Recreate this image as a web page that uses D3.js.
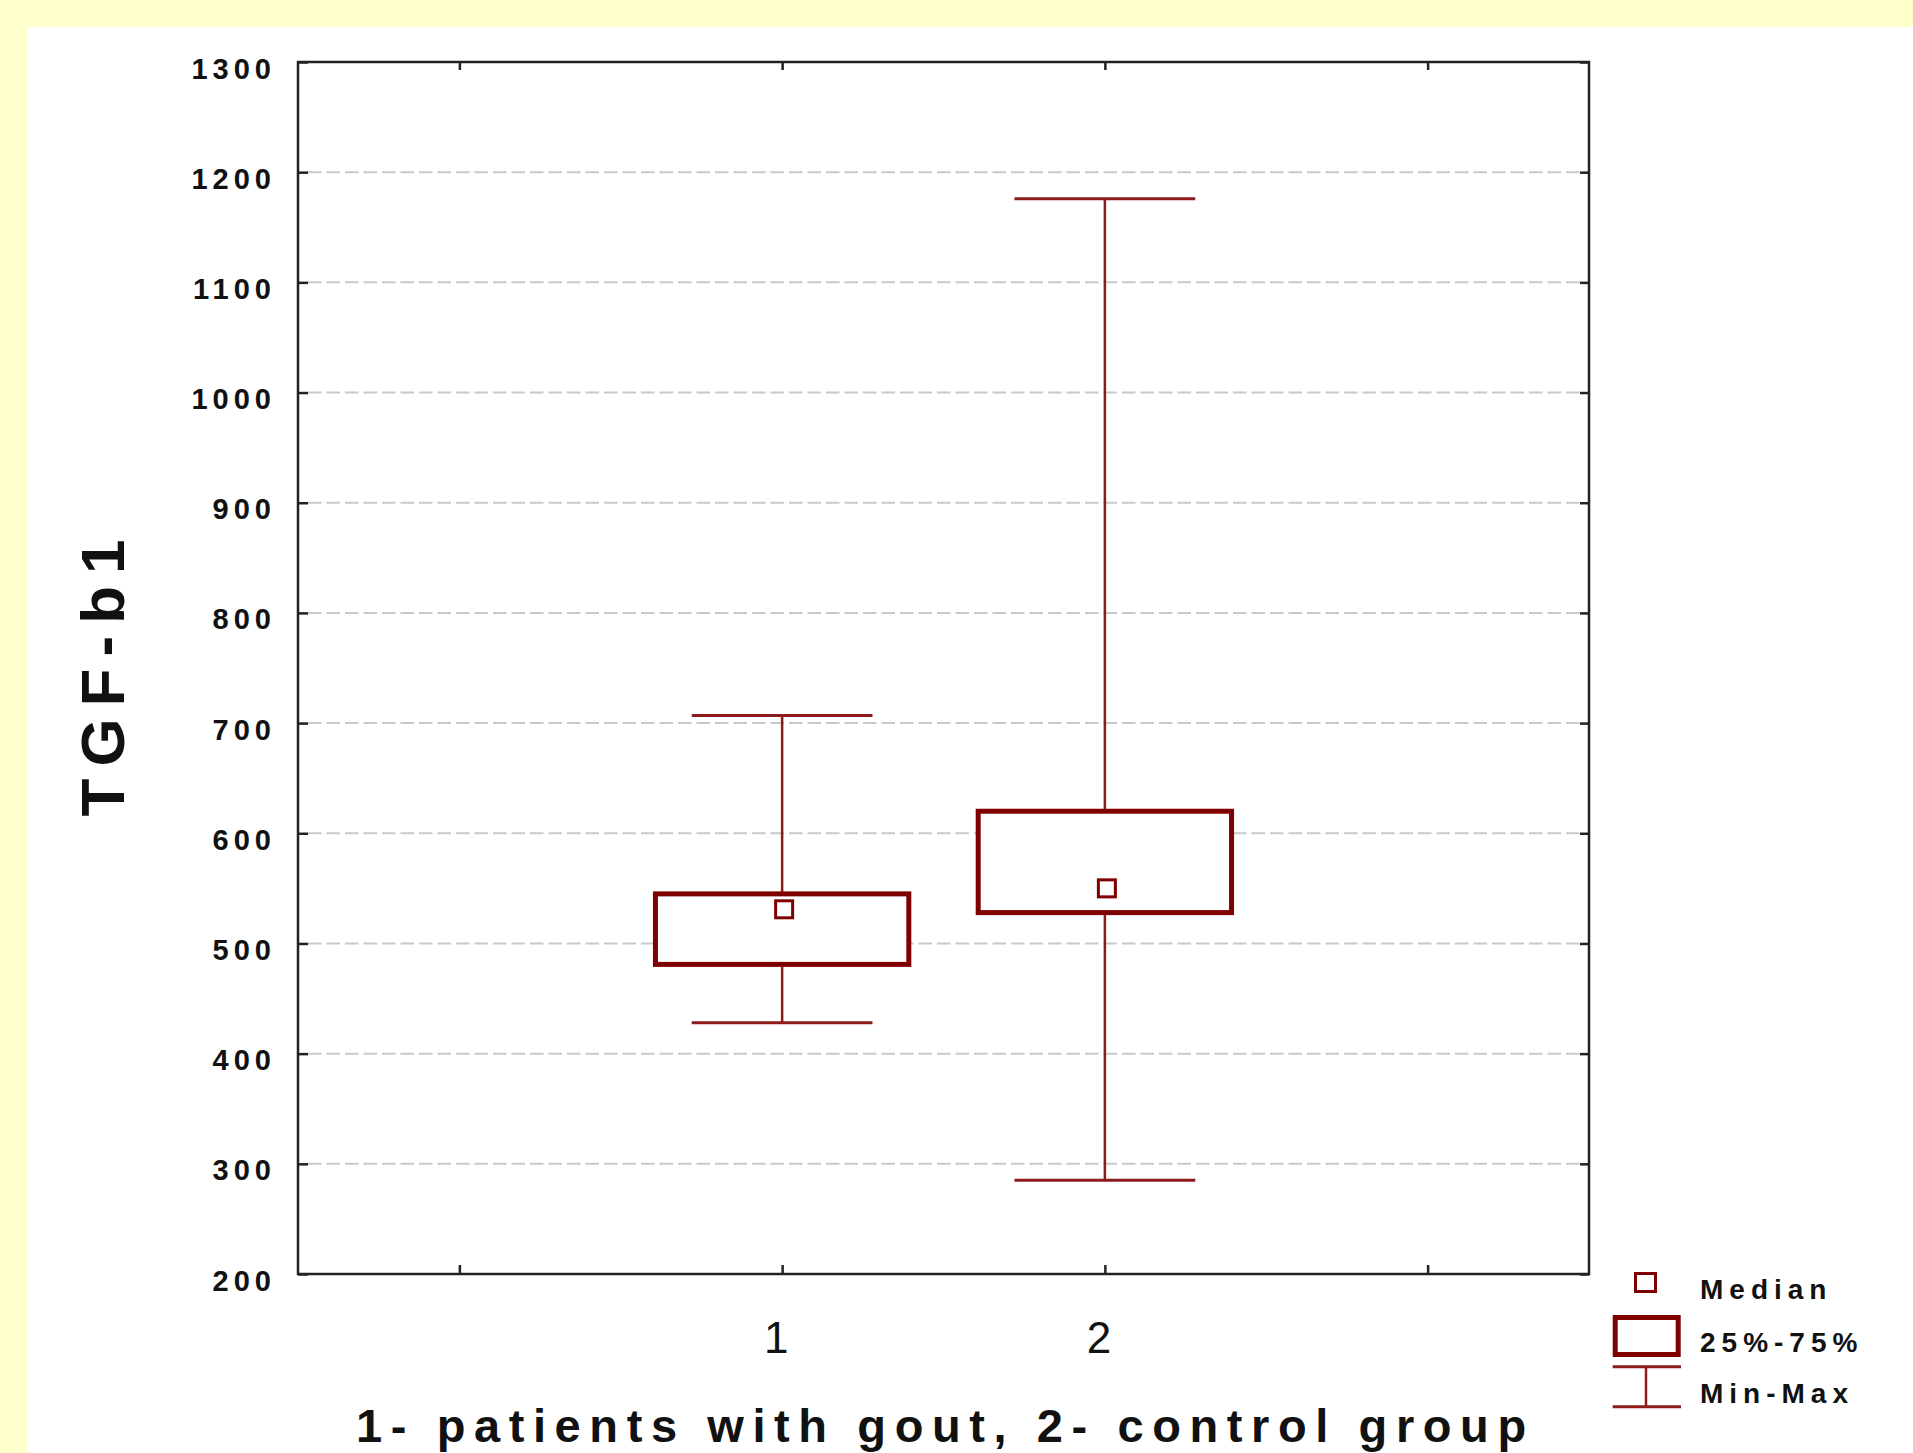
<!DOCTYPE html>
<html>
<head>
<meta charset="utf-8">
<script src="https://cdn.jsdelivr.net/npm/d3@7"></script>
<style>
  html, body { margin: 0; padding: 0; background: #ffffcc; }
  svg { display: block; }
  text { font-family: "Liberation Sans", Arial, sans-serif; fill: #111; }
</style>
</head>
<body>
<svg id="chart" width="1913" height="1453"></svg>
<script>
// ---- data ----
const groups = ["1", "2"];
const groupPos = [1, 2];
const mins = [428, 285];
const q1s = [481, 528];
const medians = [531, 550];
const q3s = [545, 620];
const maxs = [707, 1176];

const yTicks = [200, 300, 400, 500, 600, 700, 800, 900, 1000, 1100, 1200, 1300];
const xTickPositions = [0, 1, 2, 3];
const xTickLabels = ["", "1", "2", ""];
const yTitle = "TGF-b1";
const xTitle = "1- patients with gout, 2- control group";
const legendLabels = ["Median", "25%-75%", "Min-Max"];

// ---- layout ----
const svg = d3.select("#chart");
const L = 298, R = 1589, T = 62, B = 1274;
const x = d3.scaleLinear().domain([-0.5, 3.5]).range([L, R]);
const y = d3.scaleLinear().domain([200, 1300]).range([B, T]);
const unit = x(1) - x(0);
const boxColor = "#7f0000";
const whiskerColor = "#8e1b1b";

// white panel
svg.append("rect").attr("x", 27).attr("y", 27).attr("width", 1913 - 27).attr("height", 1453 - 27).attr("fill", "#ffffff");

// gridlines
svg.append("g").selectAll("line").data(yTicks.filter(v => v > 200 && v < 1300)).join("line")
  .attr("x1", L + 10).attr("x2", R - 9)
  .attr("y1", d => y(d)).attr("y2", d => y(d))
  .attr("stroke", "#c9c9c9").attr("stroke-width", 2).attr("stroke-dasharray", "13.5,5");

// axes with inward ticks
const gl = svg.append("g").attr("transform", `translate(${L},0)`)
  .call(d3.axisLeft(y).tickValues(yTicks).tickSize(-10).tickFormat(d3.format("d")).tickPadding(22));
gl.select(".domain").remove();
gl.selectAll(".tick line").attr("stroke", "#222").attr("stroke-width", 2.5);
gl.selectAll(".tick text")
  .attr("font-size", 29).attr("font-weight", "bold").attr("letter-spacing", 5)
  .attr("dy", 16).attr("fill", "#111");

const gr = svg.append("g").attr("transform", `translate(${R},0)`)
  .call(d3.axisRight(y).tickValues(yTicks).tickSize(-9).tickFormat(""));
gr.select(".domain").remove();
gr.selectAll(".tick line").attr("stroke", "#222").attr("stroke-width", 2.5);

const gb = svg.append("g").attr("transform", `translate(0,${B})`)
  .call(d3.axisBottom(x).tickValues(xTickPositions).tickSize(-9).tickFormat((d, i) => xTickLabels[i]).tickPadding(0));
gb.select(".domain").remove();
gb.selectAll(".tick line").attr("stroke", "#222").attr("stroke-width", 2.5);
gb.selectAll(".tick text").attr("font-size", 44).attr("font-weight", "normal")
  .attr("dx", -6.5).attr("y", 79).attr("dy", 0).attr("fill", "#111");

const gt = svg.append("g").attr("transform", `translate(0,${T})`)
  .call(d3.axisTop(x).tickValues(xTickPositions).tickSize(-8).tickFormat(""));
gt.select(".domain").remove();
gt.selectAll(".tick line").attr("stroke", "#222").attr("stroke-width", 2.5);

// frame
svg.append("rect").attr("x", L).attr("y", T).attr("width", R - L).attr("height", B - T)
  .attr("fill", "none").attr("stroke", "#222").attr("stroke-width", 2.5);

// boxes
const boxW = 0.785 * unit, capW = 0.56 * unit, medS = 17;
const g = svg.append("g");
groups.forEach((name, i) => {
  const cx = x(groupPos[i]);
  // whisker stem
  g.append("line").attr("x1", cx).attr("x2", cx).attr("y1", y(maxs[i])).attr("y2", y(mins[i]))
    .attr("stroke", whiskerColor).attr("stroke-width", 2.5);
  // caps
  [maxs[i], mins[i]].forEach(v => {
    g.append("line").attr("x1", cx - capW / 2).attr("x2", cx + capW / 2)
      .attr("y1", y(v)).attr("y2", y(v))
      .attr("stroke", whiskerColor).attr("stroke-width", 3);
  });
  // box
  g.append("rect").attr("x", cx - boxW / 2).attr("y", y(q3s[i]))
    .attr("width", boxW).attr("height", y(q1s[i]) - y(q3s[i]))
    .attr("fill", "#fff").attr("stroke", boxColor).attr("stroke-width", 5);
  // median
  g.append("rect").attr("x", cx - medS / 2 + 2).attr("y", y(medians[i]) - medS / 2)
    .attr("width", medS).attr("height", medS)
    .attr("fill", "#fff").attr("stroke", boxColor).attr("stroke-width", 3);
});

// y title
svg.append("text")
  .attr("transform", "translate(124,672) rotate(-90)")
  .attr("text-anchor", "middle")
  .attr("font-size", 62).attr("font-weight", "bold").attr("letter-spacing", 12)
  .text(yTitle);

// x title
svg.append("text")
  .attr("x", 356).attr("y", 1442)
  .attr("font-size", 47).attr("font-weight", "bold").attr("letter-spacing", 8.6)
  .text(xTitle);

// legend
const lg = svg.append("g");
lg.append("rect").attr("x", 1635.5).attr("y", 1273.5).attr("width", 20).attr("height", 18)
  .attr("fill", "#fff").attr("stroke", boxColor).attr("stroke-width", 3);
lg.append("rect").attr("x", 1615.2).attr("y", 1317.5).attr("width", 63).attr("height", 37)
  .attr("fill", "#fff").attr("stroke", boxColor).attr("stroke-width", 5);
lg.append("line").attr("x1", 1612.7).attr("x2", 1681).attr("y1", 1366.7).attr("y2", 1366.7)
  .attr("stroke", whiskerColor).attr("stroke-width", 3);
lg.append("line").attr("x1", 1612.7).attr("x2", 1681).attr("y1", 1406.7).attr("y2", 1406.7)
  .attr("stroke", whiskerColor).attr("stroke-width", 3);
lg.append("line").attr("x1", 1646).attr("x2", 1646).attr("y1", 1366.7).attr("y2", 1406.7)
  .attr("stroke", whiskerColor).attr("stroke-width", 2.5);
const legY = [1299, 1352, 1403];
lg.selectAll("text.leg").data(legendLabels).join("text").attr("class", "leg")
  .attr("x", 1700).attr("y", (d, i) => legY[i])
  .attr("font-size", 28).attr("font-weight", "bold").attr("letter-spacing", 6)
  .text(d => d);
</script>
</body>
</html>
